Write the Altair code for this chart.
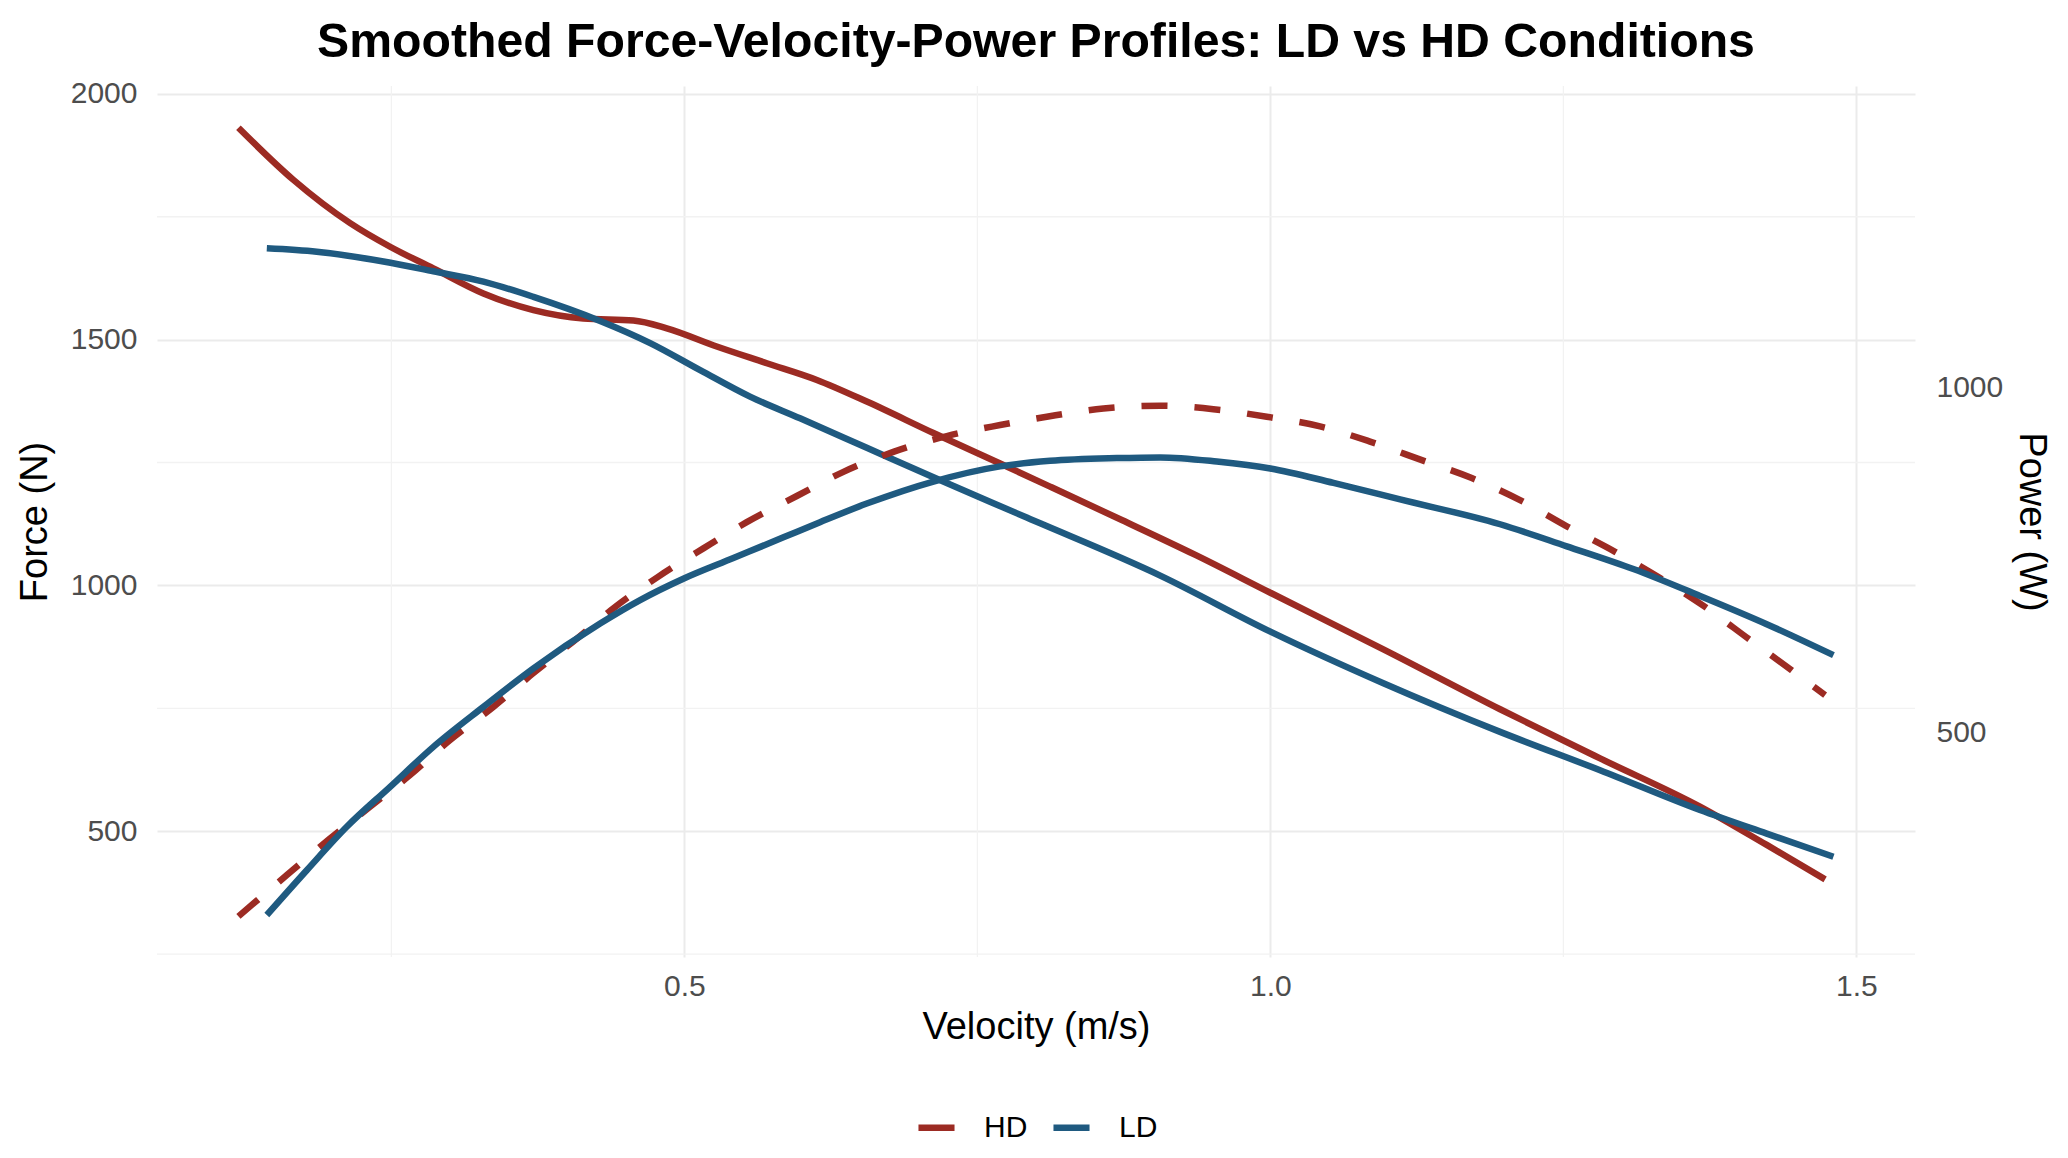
import altair as alt
import pandas as pd

# ---- data ----
hd_force_v = [0.1195, 0.1664, 0.2148, 0.2489, 0.2858, 0.3285, 0.3712, 0.4138, 0.4565, 0.485,
              0.5276, 0.5703, 0.613, 0.6556, 0.7125, 0.7694, 0.812, 0.8732, 0.936, 1.0,
              1.0964, 1.196, 1.2813, 1.3665, 1.4235, 1.4733]
hd_force = [1931, 1825, 1737, 1689, 1645, 1594, 1560, 1543, 1539, 1523,
            1486, 1452, 1418, 1374, 1310, 1248, 1201, 1133, 1062, 985,
            870, 748, 648, 550, 472, 402]

ld_force_v = [0.1437, 0.1863, 0.2432, 0.2858, 0.3285, 0.3712, 0.4281, 0.4708, 0.5134, 0.556,
              0.5987, 0.6556, 0.7125, 0.7921, 0.906, 1.0, 1.0964, 1.196, 1.2813,
              1.3665, 1.4235, 1.4804]
ld_force = [1686, 1679, 1659, 1639, 1618, 1587, 1538, 1493, 1438, 1384,
            1340, 1280, 1220, 1138, 1020, 906, 801, 702, 624,
            543, 495, 448]

hd_power_v = [0.1195, 0.1608, 0.1963, 0.2318, 0.2659, 0.3001, 0.337, 0.3712, 0.4082, 0.4394,
              0.4778, 0.5162, 0.5532, 0.5959, 0.6357, 0.6783, 0.7239, 0.7694, 0.8092, 0.8575,
              0.906, 0.9513, 0.9969, 1.0424, 1.085, 1.1292, 1.1718, 1.213, 1.2529, 1.2941,
              1.3325, 1.3709, 1.4078, 1.4449, 1.4733]
hd_power = [233, 293, 344, 392, 438, 489, 537, 586, 636, 680,
            726, 767, 805, 843, 878, 907, 930, 946, 958, 970,
            974, 969, 958, 944, 922, 895, 869, 837, 799, 762,
            724, 682, 636, 590, 554]

ld_power_v = [0.1437, 0.1778, 0.2119, 0.2489, 0.2858, 0.3285, 0.3712, 0.4281, 0.4622, 0.4991,
              0.5418, 0.5845, 0.6157, 0.6556, 0.7125, 0.7694, 0.812, 0.869, 0.906, 0.9543,
              1.0, 1.0538, 1.1107, 1.196, 1.2529, 1.3097, 1.3666, 1.4235, 1.4804]
ld_power = [235, 300, 363, 421, 479, 537, 593, 658, 692, 723,
            753, 783, 805, 832, 864, 886, 894, 898, 899, 893,
            883, 862, 838, 802, 770, 737, 698, 657, 612]

conditions = ["HD", "LD"]
colors = ["#9C2B23", "#1F5A80"]

x_ticks = [0.5, 1.0, 1.5]
x_minor = [0.25, 0.75, 1.25]
force_ticks = [500, 1000, 1500, 2000]
force_minor = [250, 750, 1250, 1750]
power_ticks = [500, 1000]

x_domain = [0.05, 1.55]
force_domain = [244, 2016]
power_factor = 1.402  # Force = Power * factor (secondary axis)
power_domain = [f / power_factor for f in force_domain]

force_df = pd.concat([
    pd.DataFrame({"v": hd_force_v, "force": hd_force, "cond": "HD"}),
    pd.DataFrame({"v": ld_force_v, "force": ld_force, "cond": "LD"}),
])
power_df = pd.concat([
    pd.DataFrame({"v": hd_power_v, "power": hd_power, "cond": "HD"}),
    pd.DataFrame({"v": ld_power_v, "power": ld_power, "cond": "LD"}),
])

FONT = "Liberation Sans"
LABEL_COLOR = "#4d4d4d"
LW = 6.5

x_scale = alt.Scale(domain=x_domain, nice=False, zero=False)
y_scale = alt.Scale(domain=force_domain, nice=False, zero=False)
p_scale = alt.Scale(domain=power_domain, nice=False, zero=False)

common_axis = dict(ticks=False, domain=False, labelFontSize=30, labelColor=LABEL_COLOR,
                   titleFontSize=38, titleColor="black", titleFontWeight="normal",
                   labelFont=FONT, titleFont=FONT)

x_axis = alt.Axis(title="Velocity (m/s)", values=x_ticks, format=".1f", grid=True,
                  gridColor="#ebebeb", gridWidth=2, labelPadding=14, titlePadding=7,
                  **common_axis)
y_axis = alt.Axis(title="Force (N)", values=force_ticks, format="d", orient="left", grid=True,
                  gridColor="#ebebeb", gridWidth=2, labelPadding=20, titlePadding=16,
                  **common_axis)
p_axis = alt.Axis(title="Power (W)", values=power_ticks, format="d", orient="right", grid=False,
                  labelPadding=21, titlePadding=9, **common_axis)

color = alt.Color(
    "cond:N",
    scale=alt.Scale(domain=conditions, range=colors),
    legend=alt.Legend(title=None, orient="none", legendX=758, legendY=1020,
                      direction="horizontal", symbolType="stroke", symbolSize=1300,
                      symbolStrokeWidth=LW, labelFontSize=30, labelOffset=26,
                      columnPadding=12, labelColor="black", padding=0, labelFont=FONT),
)

x_enc = alt.X("v:Q", scale=x_scale, axis=x_axis)

rules_x = alt.Chart(pd.DataFrame({"v": x_minor})).mark_rule(
    color="#f2f2f2", strokeWidth=1.3).encode(x=x_enc)
rules_y = alt.Chart(pd.DataFrame({"force": force_minor})).mark_rule(
    color="#f2f2f2", strokeWidth=1.3).encode(y=alt.Y("force:Q", scale=y_scale, axis=y_axis))

force_lines = alt.Chart(force_df).mark_line(strokeWidth=LW, interpolate="monotone").encode(
    x=x_enc,
    y=alt.Y("force:Q", scale=y_scale, axis=y_axis),
    color=color,
)

power_hd = alt.Chart(power_df).transform_filter("datum.cond == 'HD'").mark_line(
    strokeWidth=LW, strokeDash=[26, 27], interpolate="monotone").encode(
    x=x_enc,
    y=alt.Y("power:Q", scale=p_scale, axis=p_axis),
    color=color,
)
power_ld = alt.Chart(power_df).transform_filter("datum.cond == 'LD'").mark_line(
    strokeWidth=LW, interpolate="monotone").encode(
    x=x_enc,
    y=alt.Y("power:Q", scale=p_scale, axis=p_axis),
    color=color,
)

force_layer = alt.layer(rules_x, rules_y, force_lines)
power_layer = alt.layer(power_hd, power_ld)

chart = alt.layer(force_layer, power_layer).resolve_scale(y="independent").properties(
    width=1758,
    height=871,
    title=alt.Title("Smoothed Force-Velocity-Power Profiles: LD vs HD Conditions",
                    fontSize=48.2, fontWeight="bold", font=FONT, anchor="middle",
                    offset=11.5, color="black"),
    padding={"left": 8, "top": 10, "right": 0, "bottom": 0},
).configure(font=FONT).configure_view(stroke=None)

chart.save("out.html", embed_options={"renderer": "svg", "actions": False})
